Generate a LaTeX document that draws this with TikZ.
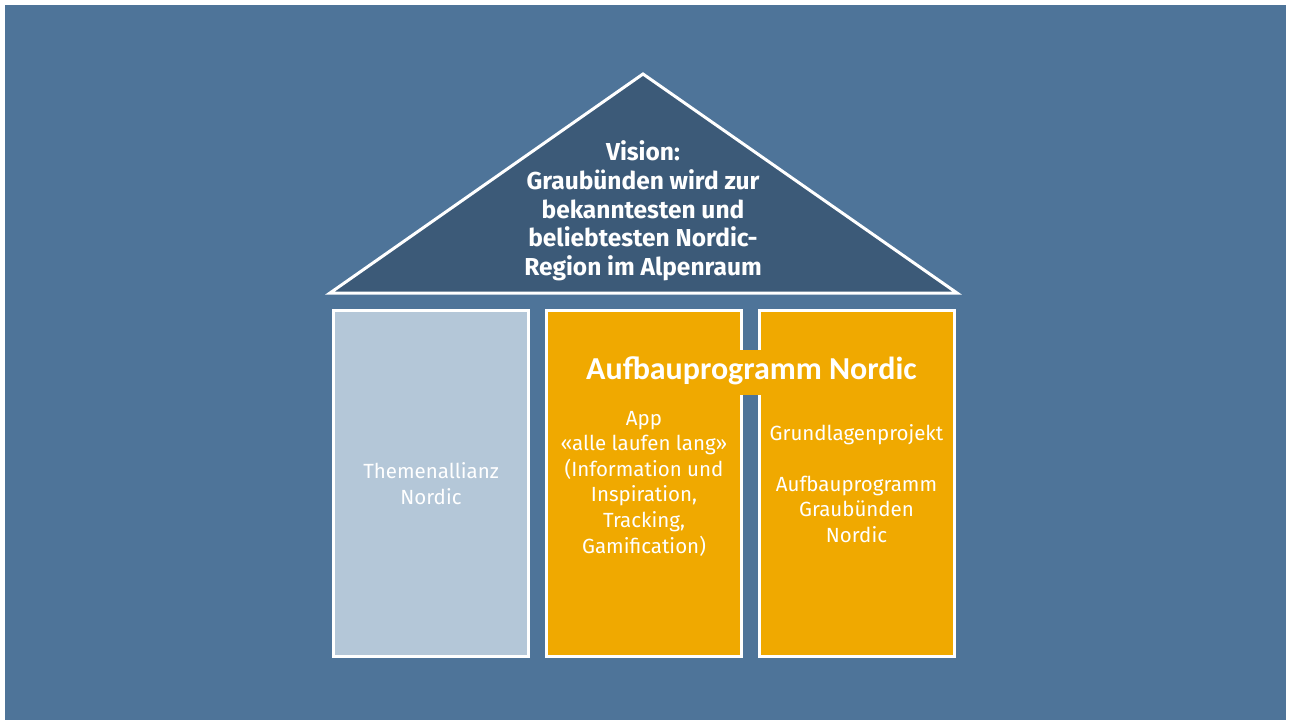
\documentclass[tikz,border=0pt]{standalone}
\usepackage{fontspec}
\setmainfont{Fira Sans}
\newfontfamily\titelfont{Carlito}
\definecolor{hausblau}{HTML}{4E7499}
\definecolor{dachblau}{HTML}{3C5A78}
\definecolor{saeulegrau}{HTML}{B4C7D8}
\definecolor{saeuleorange}{HTML}{F0A900}
\tikzset{
  saeule/.style={draw=white, line width=3pt, minimum width=195pt, minimum height=346pt, inner sep=0pt},
}
\begin{document}
\begin{tikzpicture}[x=1pt, y=-1pt, every node/.style={text=white, align=center, font=\fontsize{20.5}{25.6}\selectfont}]
    \useasboundingbox (0,0) rectangle (1292,722);
    % Hintergrund
    \fill[hausblau] (5,5) rectangle (1286,720);

    % Dach
    \filldraw[draw=white, line width=3pt, fill=dachblau, line join=miter] (330,293) -- (643,74) -- (957,293) -- cycle;
    \node[font=\bfseries\fontsize{24.5}{28.7}\selectfont] (vision) at (643,211) {Vision:\\Graubünden wird zur\\bekanntesten und\\beliebtesten Nordic-\\Region im Alpenraum};

    % Saeulen
    \node[saeule, fill=saeulegrau] (themen) at (431,483.5) {Themenallianz\\Nordic};
    \node[saeule, fill=saeuleorange] (app) at (644,483.5) {App\\«alle laufen lang»\\(Information und\\Inspiration,\\Tracking,\\Gamification)};
    \node[saeule, fill=saeuleorange] (grundlagen) at (856.5,483.5) {Grundlagenprojekt\\[25.6pt]Aufbauprogramm\\Graubünden\\Nordic};

    % Bruecke Aufbauprogramm
    \fill[saeuleorange] (739.5,350) rectangle (761.5,395);
    \node[font=\titelfont\bfseries\fontsize{32}{36}\selectfont] (aufbau) at (751.5,371) {Aufbauprogramm Nordic};
\end{tikzpicture}
\end{document}
